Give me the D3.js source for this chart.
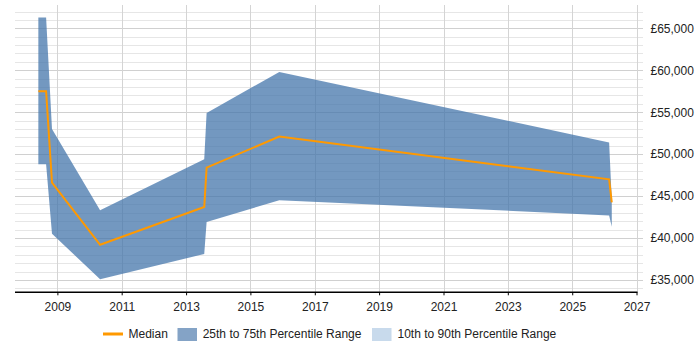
<!DOCTYPE html>
<html>
<head>
<meta charset="utf-8">
<script src="https://cdn.jsdelivr.net/npm/d3@7"></script>
<style>
  html, body { margin: 0; padding: 0; background: #fff; }
  svg { display: block; font-family: "Liberation Sans", Arial, sans-serif; }
</style>
</head>
<body>
<svg id="chart" width="700" height="350"></svg>
<script>
const dates = ["2008-05-30", "2008-08-26", "2008-11-01", "2010-05-01", "2013-07-26", "2013-08-22", "2015-11-25", "2026-02-24", "2026-03-26"];
const p75 = [66300, 66300, 53000, 43300, 49400, 54900, 59800, 51400, 44500];
const median = [57500, 57500, 46600, 39200, 43700, 48400, 52100, 47000, 44250];
const p25 = [48800, 48800, 40500, 35100, 38100, 41900, 44500, 42700, 41350];
const yearTicks = [2009, 2011, 2013, 2015, 2017, 2019, 2021, 2023, 2025, 2027];
const yTicks = [35000, 40000, 45000, 50000, 55000, 60000, 65000];
const legendLabels = ["Median", "25th to 75th Percentile Range", "10th to 90th Percentile Range"];

(function () {
const parse = d3.timeParse("%Y-%m-%d");
const data = dates.map((d, i) => ({ date: parse(d), lo: p25[i], med: median[i], hi: p75[i] }));

const svg = d3.select("#chart");
const pLeft = 15, pRight = 637.5, pTop = 5, pBottom = 292.3;

const x = d3.scaleTime()
  .domain([new Date(2007, 8, 8), new Date(2027, 0, 12)])
  .range([pLeft, pRight]);
const y = d3.scaleLinear()
  .domain([33530, 67780])
  .range([pBottom, pTop]);

// horizontal grid (minor every 1000, major every 5000)
const minor = d3.range(34000, 67781, 1000);
svg.append("g").selectAll("line").data(minor).join("line")
  .attr("x1", pLeft).attr("x2", 643)
  .attr("y1", d => Math.round(y(d)) + 0.5).attr("y2", d => Math.round(y(d)) + 0.5)
  .attr("stroke", d => d % 5000 === 0 ? "#d0d0d0" : "#e6e6e6")
  .attr("stroke-width", 1);

// vertical grid
svg.append("g").selectAll("line").data(yearTicks).join("line")
  .attr("x1", d => Math.round(x(new Date(d, 0, 1))) + 0.5)
  .attr("x2", d => Math.round(x(new Date(d, 0, 1))) + 0.5)
  .attr("y1", pTop).attr("y2", pBottom)
  .attr("stroke", "#d4d4d4").attr("stroke-width", 1);

// band 25-75
const area = d3.area()
  .x(d => x(d.date))
  .y0(d => y(d.lo))
  .y1(d => y(d.hi));
svg.append("path").datum(data)
  .attr("d", area)
  .attr("fill", "rgb(68,118,171)")
  .attr("fill-opacity", 0.75);

// median
const line = d3.line().x(d => x(d.date)).y(d => y(d.med));
svg.append("path").datum(data)
  .attr("d", line)
  .attr("fill", "none")
  .attr("stroke", "#ff9900")
  .attr("stroke-width", 2);

// x axis
const xAxis = d3.axisBottom(x)
  .tickValues(yearTicks.map(yv => new Date(yv, 0, 1)))
  .tickFormat(d3.timeFormat("%Y"))
  .tickSize(3)
  .tickSizeOuter(0);
const gx = svg.append("g")
  .attr("transform", `translate(0,${pBottom})`)
  .call(xAxis);
gx.select(".domain").attr("stroke", "#000").attr("stroke-width", 1.5)
  .attr("d", `M${pLeft},0H${pRight}`);
gx.selectAll(".tick line").attr("stroke", "#000");
gx.selectAll(".tick text").attr("font-size", 12).attr("fill", "#222")
  .attr("font-family", "Liberation Sans, Arial, sans-serif").attr("dy", "1.05em");

// y axis (right)
const yAxis = d3.axisRight(y)
  .tickValues(yTicks)
  .tickFormat(d => "£" + d3.format(",")(d))
  .tickSize(0)
  .tickPadding(0);
const gy = svg.append("g")
  .attr("transform", `translate(650.5,0)`)
  .call(yAxis);
gy.select(".domain").remove();
gy.selectAll(".tick text").attr("font-size", 12).attr("fill", "#222")
  .attr("font-family", "Liberation Sans, Arial, sans-serif");

// legend
const lg = svg.append("g").attr("font-size", 12).attr("fill", "#222");
lg.append("line").attr("x1", 103).attr("x2", 123).attr("y1", 334).attr("y2", 334)
  .attr("stroke", "#ff9900").attr("stroke-width", 3);
lg.append("text").attr("x", 128.5).attr("y", 338.2).text(legendLabels[0]);
lg.append("rect").attr("x", 177.5).attr("y", 328).attr("width", 19.5).attr("height", 13)
  .attr("fill", "rgb(132,163,198)");
lg.append("text").attr("x", 202.7).attr("y", 338.2).text(legendLabels[1]);
lg.append("rect").attr("x", 372).attr("y", 328).attr("width", 19.5).attr("height", 13)
  .attr("fill", "rgb(200,218,236)");
lg.append("text").attr("x", 397.5).attr("y", 338.2).text(legendLabels[2]);
})();
</script>
</body>
</html>
